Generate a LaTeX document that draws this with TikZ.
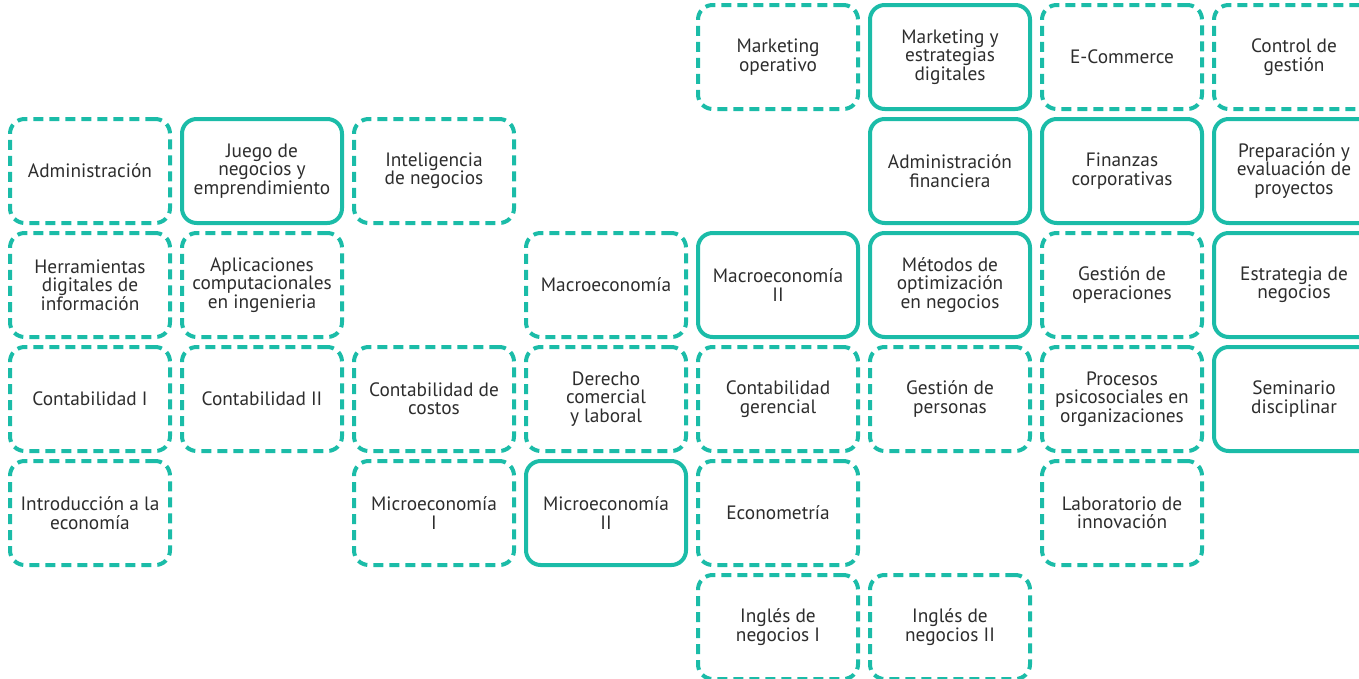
\documentclass[tikz,border=0pt]{standalone}
\usepackage{fontspec}
\setmainfont{PT Sans}
\usetikzlibrary{positioning}
\definecolor{verde}{RGB}{27,188,168}
\definecolor{texto}{RGB}{45,45,45}
\tikzstyle{ramo}=[draw=verde, line width=3pt, rounded corners=11pt, minimum width=120pt, minimum height=78pt, align=center, text=texto, inner sep=2pt, font=\fontsize{14.5}{13.8}\selectfont]
\tikzstyle{ramod}=[ramo, dash pattern=on 7.5pt off 4.5pt]

\begin{document}
\begin{tikzpicture}[x=0.75pt,y=-0.75pt]
\useasboundingbox (0,0) rectangle (1359,678);

% columna 1
\node[ramod] at (90,171) (adm) {Administración};
\node[ramod, below of = adm, node distance = 85.5pt] (herr) {Herramientas\\digitales de\\información};
\node[ramod, below of = herr, node distance = 85.5pt] (cont1) {Contabilidad I};
\node[ramod, below of = cont1, node distance = 85.5pt] (intro) {Introducción a la\\economía};

% columna 2
\node[ramo, right of = adm, node distance = 129pt] (juego) {Juego de\\negocios y\\emprendimiento};
\node[ramod, below of = juego, node distance = 85.5pt] (aplic) {Aplicaciones\\computacionales\\en ingenieria};
\node[ramod, below of = aplic, node distance = 85.5pt] (cont2) {Contabilidad II};

% columna 3
\node[ramod, right of = juego, node distance = 129pt] (intel) {Inteligencia\\de negocios};
\node[ramod, right of = cont2, node distance = 129pt] (costos) {Contabilidad de\\costos};
\node[ramod, below of = costos, node distance = 85.5pt] (micro1) {Microeconomía\\I};

% columna 4
\node[ramod, right of = aplic, node distance = 258pt] (macro1) {Macroeconomía};
\node[ramod, below of = macro1, node distance = 85.5pt] (derecho) {Derecho\\comercial\\y laboral};
\node[ramo, below of = derecho, node distance = 85.5pt] (micro2) {Microeconomía\\II};

% columna 5
\node[ramo, right of = macro1, node distance = 129pt] (macro2) {Macroeconomía\\II};
\node[ramod, above of = macro2, node distance = 171pt] (mkop) {Marketing\\operativo};
\node[ramod, below of = macro2, node distance = 85.5pt] (contger) {Contabilidad\\gerencial};
\node[ramod, below of = contger, node distance = 85.5pt] (econom) {Econometría};
\node[ramod, below of = econom, node distance = 85.5pt] (ingles1) {Inglés de\\negocios I};

% columna 6
\node[ramo, right of = mkop, node distance = 129pt] (mkdig) {Marketing y\\estrategias\\digitales};
\node[ramo, below of = mkdig, node distance = 85.5pt] (adfin) {Administración\\financiera};
\node[ramo, below of = adfin, node distance = 85.5pt] (metodos) {Métodos de\\optimización\\en negocios};
\node[ramod, below of = metodos, node distance = 85.5pt] (gpers) {Gestión de\\personas};
\node[ramod, below of = gpers, node distance = 171pt] (ingles2) {Inglés de\\negocios II};

% columna 7
\node[ramod, right of = mkdig, node distance = 129pt] (ecom) {E-Commerce};
\node[ramo, below of = ecom, node distance = 85.5pt] (finanzas) {Finanzas\\corporativas};
\node[ramod, below of = finanzas, node distance = 85.5pt] (gop) {Gestión de\\operaciones};
\node[ramod, below of = gop, node distance = 85.5pt] (psico) {Procesos\\psicosociales en\\organizaciones};
\node[ramod, below of = psico, node distance = 85.5pt] (lab) {Laboratorio de\\innovación};

% columna 8
\node[ramod, right of = ecom, node distance = 129pt] (control) {Control de\\gestión};
\node[ramo, below of = control, node distance = 85.5pt] (proyectos) {Preparación y\\evaluación de\\proyectos};
\node[ramo, below of = proyectos, node distance = 85.5pt] (estrategia) {Estrategia de\\negocios};
\node[ramo, below of = estrategia, node distance = 85.5pt] (seminario) {Seminario\\disciplinar};
\end{tikzpicture}
\end{document}
